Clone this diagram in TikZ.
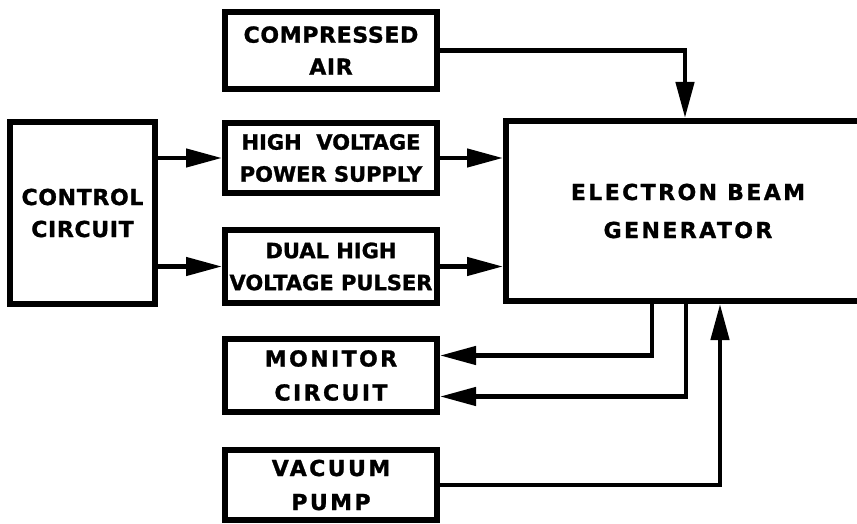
\documentclass[tikz,border=0pt]{standalone}
\usepackage{fontspec}
\setmainfont{DejaVu Sans}
\newfontfamily\lblfont[LetterSpace=3,FakeBold=1.2]{DejaVu Sans Bold}
\newfontfamily\tightfont[FakeBold=1.2]{DejaVu Sans Bold}
\newfontfamily\widefont[LetterSpace=11,FakeBold=1.2]{DejaVu Sans Bold}
\usetikzlibrary{arrows.meta}
\begin{document}
\begin{tikzpicture}[x=1pt,y=-1pt,
  blk/.style={draw,line width=6pt,rectangle,align=center,inner sep=0pt,
    font=\lblfont\fontsize{22}{32}\selectfont},
  arr/.style={line width=4.5pt,-{Triangle[length=36pt,width=18pt]}}]
\clip (0,0) rectangle (857,524);
\fill[white] (0,0) rectangle (857,524);
\node[blk,minimum width=212pt,minimum height=77pt] (air) at (331,50.5) {COMPRESSED\\AIR};
\node[blk,minimum width=145pt,minimum height=182pt] (ctrl) at (82.5,213) {CONTROL\\CIRCUIT};
\node[blk,minimum width=212pt,minimum height=70pt,font=\tightfont\fontsize{21}{32}\selectfont] (hv) at (331,158) {HIGH \ VOLTAGE\\POWER SUPPLY};
\node[blk,minimum width=212pt,minimum height=73pt,font=\tightfont\fontsize{21}{32}\selectfont] (dual) at (331,266.5) {DUAL HIGH\\VOLTAGE PULSER};
\node[blk,minimum width=364pt,minimum height=180pt,font=\widefont\fontsize{22}{38}\selectfont] (ebg) at (688,211) {ELECTRON BEAM\\GENERATOR};
\node[blk,minimum width=212pt,minimum height=73pt,font=\widefont\fontsize{22}{34}\selectfont] (mon) at (331,375.5) {MONITOR\\CIRCUIT};
\node[blk,minimum width=212pt,minimum height=70pt,font=\widefont\fontsize{22}{34}\selectfont] (vac) at (331,485) {VACUUM\\PUMP};
\draw[arr] (air.east) -| ([xshift=-3pt]ebg.north);
\draw[arr] (ctrl.east |- hv) -- (hv.west);
\draw[arr] (ctrl.east |- dual) -- (dual.west);
\draw[arr] (hv.east) -- (hv.east -| ebg.west);
\draw[arr] (dual.east) -- (dual.east -| ebg.west);
\draw[arr] ([xshift=-36pt]ebg.south) |- ([yshift=20pt]mon.east);
\draw[arr] ([xshift=-2pt]ebg.south) |- ([yshift=-21pt]mon.east);
\draw[arr] (vac.east) -| ([xshift=32pt]ebg.south);
\end{tikzpicture}
\end{document}
